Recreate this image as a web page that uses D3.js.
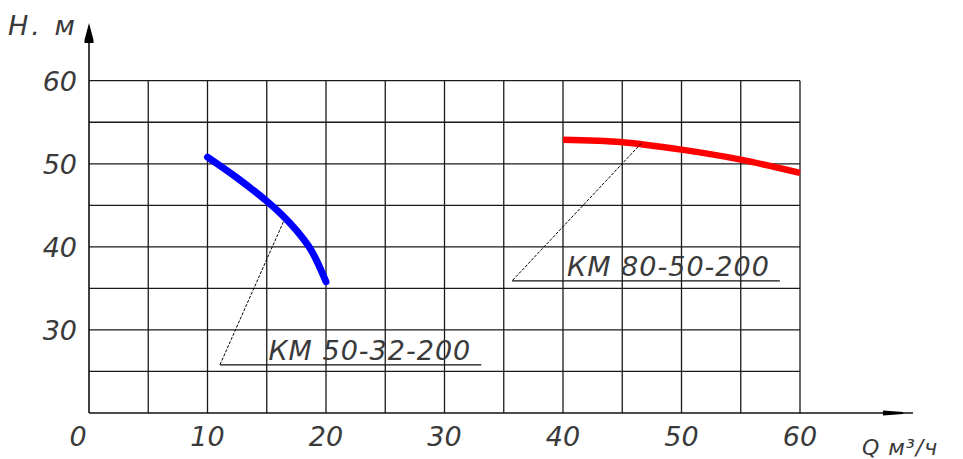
<!DOCTYPE html>
<html lang="ru">
<head>
<meta charset="utf-8">
<title>Напорные характеристики КМ</title>
<script src="https://d3js.org/d3.v7.min.js"></script>
<style>
    body { margin: 0; background: #fff; }
    svg text { font-family: "DejaVu Sans", sans-serif; font-style: italic; fill: #3a3a3a; }
</style>
</head>
<body>
<svg id="chart" width="963" height="459"></svg>
<script>
    // подача Q, м3/ч и напор H, м
    var pumpNames = ["КМ 50-32-200", "КМ 80-50-200"];
    var km50Q = [10, 12.5, 15, 16.25, 17.5, 18.75, 20];
    var km50H = [50.8, 48.3, 45.5, 43.9, 42.0, 39.6, 35.8];
    var km80Q = [40, 45, 50, 55, 60];
    var km80H = [52.9, 52.6, 51.7, 50.5, 48.9];
    var xTickLabels = [0, 10, 20, 30, 40, 50, 60];
    var yTickLabels = [30, 40, 50, 60];

    var svg = d3.select("#chart");

    var x = d3.scaleLinear().domain([0, 60]).range([89, 800]);
    var y = d3.scaleLinear().domain([20, 60]).range([413, 80.7]);

    // сетка через 5 единиц
    var grid = svg.append("g").attr("stroke", "#1a1a1a").attr("stroke-width", 1.3);
    grid.selectAll("line.v").data(d3.range(5, 61, 5)).enter().append("line")
        .attr("x1", d => x(d)).attr("x2", d => x(d))
        .attr("y1", y(20)).attr("y2", y(60));
    grid.selectAll("line.h").data(d3.range(25, 61, 5)).enter().append("line")
        .attr("x1", x(0)).attr("x2", x(60))
        .attr("y1", d => y(d)).attr("y2", d => y(d));

    // оси со стрелками
    var axes = svg.append("g").attr("stroke", "#111").attr("stroke-width", 1.6);
    axes.append("line").attr("x1", x(0)).attr("x2", x(0)).attr("y1", y(20)).attr("y2", 30);
    axes.append("line").attr("x1", x(0)).attr("x2", 913).attr("y1", y(20)).attr("y2", y(20));
    svg.append("path").attr("fill", "#000")
        .attr("d", "M" + x(0) + ",23 L" + (x(0) + 4.5) + ",40 L" + (x(0) + 4.5) + ",43 L" + (x(0) - 4.5) + ",43 L" + (x(0) - 4.5) + ",40 Z");
    svg.append("path").attr("fill", "#000")
        .attr("d", "M883," + (y(20) - 2.5) + " L903," + (y(20) - 1) + " L903," + (y(20) + 1) + " L883," + (y(20) + 2.5) + " Z");

    // подписи делений
    svg.append("g").selectAll("text").data(xTickLabels).enter().append("text")
        .attr("x", d => x(d) + (d === 0 ? -11 : 0))
        .attr("y", 446)
        .attr("text-anchor", "middle")
        .attr("font-size", 27)
        .text(d => d);
    svg.append("g").selectAll("text").data(yTickLabels).enter().append("text")
        .attr("x", 77)
        .attr("y", d => y(d) + 10)
        .attr("text-anchor", "end")
        .attr("font-size", 27)
        .text(d => d);

    svg.append("text").attr("x", 8).attr("y", 35).attr("font-size", 27)
        .attr("letter-spacing", 3).text("Н. м");
    svg.append("text").attr("x", 862).attr("y", 455).attr("font-size", 22)
        .attr("letter-spacing", 1).text("Q м³/ч");

    // кривые
    var line = d3.line().x(d => x(d[0])).y(d => y(d[1])).curve(d3.curveCatmullRom.alpha(0.5));
    svg.append("path").datum(d3.zip(km50Q, km50H))
        .attr("fill", "none").attr("stroke", "#0000ff").attr("stroke-width", 7)
        .attr("stroke-linecap", "round").attr("d", line);
    svg.append("path").datum(d3.zip(km80Q, km80H))
        .attr("fill", "none").attr("stroke", "#ff0000").attr("stroke-width", 6.5)
        .attr("d", line);

    // выноски с марками насосов
    var callouts = [
        {name: pumpNames[0], from: [16.4, 43.0], to: [11.05, 25.8], end: 33.1},
        {name: pumpNames[1], from: [46.6, 52.45], to: [35.7, 35.9], end: 58.3}
    ];
    var c = svg.append("g").selectAll("g").data(callouts).enter().append("g");
    c.append("line")
        .attr("x1", d => x(d.from[0])).attr("y1", d => y(d.from[1]))
        .attr("x2", d => x(d.to[0])).attr("y2", d => y(d.to[1]))
        .attr("stroke", "#000").attr("stroke-width", 1).attr("stroke-dasharray", "3,1.5");
    c.append("line")
        .attr("x1", d => x(d.to[0])).attr("y1", d => y(d.to[1]))
        .attr("x2", d => x(d.end)).attr("y2", d => y(d.to[1]))
        .attr("stroke", "#111").attr("stroke-width", 1.3);
    c.append("text")
        .attr("x", d => x(d.end) - 10).attr("y", d => y(d.to[1]) - 5)
        .attr("text-anchor", "end")
        .attr("font-size", 27)
        .attr("letter-spacing", 1)
        .text(d => d.name);
</script>
</body>
</html>
